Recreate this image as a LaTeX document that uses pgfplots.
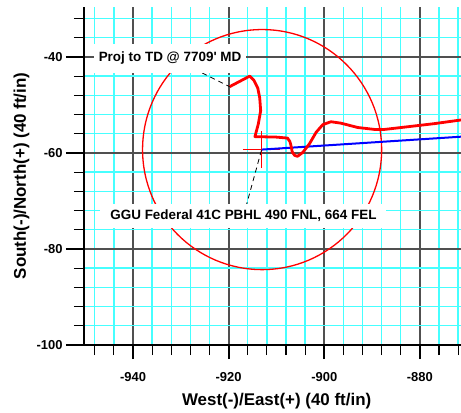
\documentclass[border=0pt]{standalone}
\usepackage{pgfplots}
\pgfplotsset{compat=1.18}
\usepackage{fontspec}
\setmainfont{Liberation Sans}

\definecolor{gridcyan}{RGB}{70,255,255}
\definecolor{gridmajor}{RGB}{80,80,80}

\begin{document}
\begin{tikzpicture}
\begin{axis}[
  at={(0,0)}, anchor=south west,
  scale only axis, width=377bp, height=338bp,
  xmin=-950.25, xmax=-871.4,
  ymin=-100, ymax=-29.6,
  axis lines=left,
  axis line style={-, black, line width=2.4bp},
  xtick={-940,-920,-900,-880},
  xticklabels={-940,-920,-900,-880},
  minor xtick={-948,-944,...,-872},
  ytick={-100,-80,-60,-40},
  yticklabels={-100,-80,-60,-40},
  minor ytick={-96,-92,...,-32},
  tick align=outside,
  major tick length=18bp,
  minor tick length=10bp,
  every major x tick/.append style={/pgfplots/major tick length=14bp},
  major tick style={black, line width=2.2bp},
  minor tick style={black, line width=1.2bp},
  grid=both,
  minor grid style={gridcyan, line width=1.4bp},
  major grid style={gridmajor, line width=1.9bp},
  ticklabel style={font=\bfseries\fontsize{13}{13}\selectfont},
  xticklabel style={yshift=-6bp},
  xlabel={West(-)/East(+) (40 ft/in)},
  ylabel={South(-)/North(+) (40 ft/in)},
  xlabel style={font=\bfseries\fontsize{17}{17}\selectfont,
    at={(axis description cs:0.511,-0.1657)}, anchor=center},
  ylabel style={font=\bfseries\fontsize{17}{17}\selectfont,
    at={(axis description cs:-0.166,0.5)}, anchor=center},
]
% tolerance circle round the target
\draw[red, line width=1.3bp] (axis cs:-913,-59.3) ellipse [x radius=25, y radius=25];

% target cross
\addplot[red, line width=1.4bp] coordinates {(-917.0,-59.3) (-909.2,-59.3)};
\addplot[red, line width=1.4bp] coordinates {(-913.1,-55.5) (-913.1,-63.2)};

% plan
\addplot[blue, line width=2bp] coordinates {(-913.1,-59.3) (-871.2,-56.6) (-860,-55.9)};

% actual path
\addplot[red, line width=2.8bp, line join=round] coordinates {
  (-919.8,-46.2) (-915.6,-44.0) (-914.7,-44.9) (-913.9,-46.5)
  (-913.5,-48.5) (-913.3,-51.2) (-913.8,-54.0) (-914.5,-56.6)
  (-910.0,-56.7) (-907.7,-56.9) (-907.2,-57.6) (-907.0,-58.3)
  (-906.7,-59.8) (-906.2,-60.5) (-905.6,-60.7) (-904.5,-59.9)
  (-903.1,-58.1) (-901.7,-55.7) (-900.3,-54.1) (-898.6,-53.5)
  (-896.5,-53.8) (-893.0,-54.7) (-889.5,-55.1) (-887.4,-55.1)
  (-883.9,-54.7) (-877.0,-53.9) (-871.2,-53.1) (-865.0,-52.3)
};

% leaders and labels
\draw[black, line width=0.8bp, dash pattern=on 5bp off 4bp]
  (axis cs:-932.25,-40) -- (axis cs:-919.8,-46.2);
\draw[black, line width=0.8bp, dash pattern=on 5bp off 4bp]
  (axis cs:-916.9,-73.1) -- (axis cs:-913.1,-59.3);
\node[fill=white, inner xsep=4.5bp, inner ysep=8bp,
  font=\bfseries\fontsize{13.5}{14}\selectfont]
  at (axis cs:-932.25,-40.3) {Proj to TD @ 7709\textquotesingle\ MD};
\node[fill=white, inner xsep=10bp, inner ysep=6bp,
  font=\bfseries\fontsize{13.5}{14}\selectfont]
  at (axis cs:-916.9,-73.1) {GGU Federal 41C PBHL 490 FNL, 664 FEL};
\end{axis}
\pgfresetboundingbox
\path[use as bounding box] (-84bp,-68bp) rectangle (377bp,345bp);
\end{tikzpicture}
\end{document}
